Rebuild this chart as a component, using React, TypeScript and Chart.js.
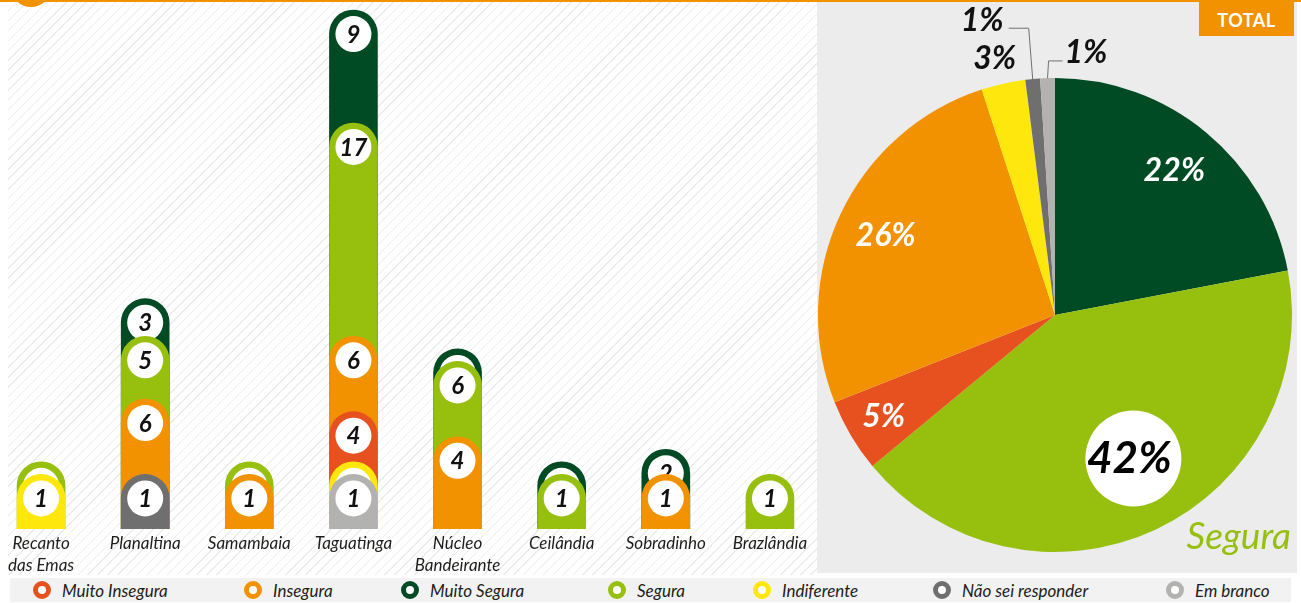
import React, { useEffect, useRef } from "react";
import { Chart, registerables } from "chart.js";

Chart.register(...registerables);

// ---------- data ----------
const CATEGORIES: (string | string[])[] = [
  ["Recanto", "das Emas"],
  "Planaltina",
  "Samambaia",
  "Taguatinga",
  ["Núcleo", "Bandeirante"],
  "Ceilândia",
  "Sobradinho",
  "Brazlândia",
];

// stacked bottom -> top
const EM_BRANCO = [null, null, null, 1, null, null, null, null];
const NAO_SEI = [null, 1, null, null, null, null, null, null];
const INDIFERENTE = [1, null, null, 1, null, null, null, null];
const MUITO_INSEGURA = [null, null, null, 4, null, null, null, null];
const INSEGURA = [null, 6, 1, 6, 4, null, 1, null];
const SEGURA = [1, 5, 1, 17, 6, 1, null, 1];
const MUITO_SEGURA = [null, 3, null, 9, 1, 1, 2, null];

const PIE_LABELS = [
  "Muito Segura",
  "Segura",
  "Muito Insegura",
  "Insegura",
  "Indiferente",
  "Não sei responder",
  "Em branco",
];
const PIE_PERCENT = [22, 42, 5, 26, 3, 1, 1];

const LEGEND_ORDER = [
  "Muito Insegura",
  "Insegura",
  "Muito Segura",
  "Segura",
  "Indiferente",
  "Não sei responder",
  "Em branco",
];

// ---------- styles ----------
const COLOR: Record<string, string> = {
  "Muito Segura": "#004b23",
  Segura: "#97bf0d",
  "Muito Insegura": "#e6511f",
  Insegura: "#f39200",
  Indiferente: "#fde70c",
  "Não sei responder": "#706f6f",
  "Em branco": "#b2b2b1",
};

const Y_MIN = -3.35;
const Y_MAX = 38.64;
const FONT = "Lato, 'Open Sans', sans-serif";
const LEGEND_X = [42, 253, 410, 617, 762, 942, 1175];

const barBadgePlugin = {
  id: "barBadges",
  afterDatasetDraw(chart: any, args: any) {
    const ctx = chart.ctx;
    const ds = chart.data.datasets[args.index];
    args.meta.data.forEach((el: any, i: number) => {
      const v = ds.data[i];
      if (v == null) return;
      const { x, y, width } = el.getProps(["x", "y", "width"], true);
      const r = width / 2;
      const cy = y + r;
      ctx.save();
      ctx.beginPath();
      ctx.arc(x, cy, r - 6, 0, Math.PI * 2);
      ctx.fillStyle = "#ffffff";
      ctx.fill();
      ctx.fillStyle = "#111111";
      ctx.font = `italic bold 24px ${FONT}`;
      ctx.textAlign = "center";
      ctx.textBaseline = "middle";
      ctx.fillText(String(v), x, cy + 1);
      ctx.restore();
    });
  },
};

const pieLabelPlugin = {
  id: "pieLabels",
  afterDatasetsDraw(chart: any) {
    const ctx = chart.ctx;
    const meta = chart.getDatasetMeta(0);
    const values = chart.data.datasets[0].data;
    meta.data.forEach((arc: any, i: number) => {
      const { x, y, startAngle, endAngle, outerRadius } = arc.getProps(
        ["x", "y", "startAngle", "endAngle", "outerRadius"],
        true
      );
      const mid = (startAngle + endAngle) / 2;
      const R = outerRadius;
      const at = (f: number, da = 0) => ({
        px: x + Math.cos(mid + da) * R * f,
        py: y + Math.sin(mid + da) * R * f,
      });
      const text = `${values[i]}%`;
      ctx.save();
      ctx.textAlign = "center";
      ctx.textBaseline = "middle";
      if (i === 0 || i === 2 || i === 3) {
        const f = i === 2 ? 0.84 : 0.79;
        const { px, py } = at(f);
        ctx.fillStyle = "#ffffff";
        ctx.font = `italic bold 32px ${FONT}`;
        ctx.fillText(text, px, py);
      } else if (i === 1) {
        const { px, py } = at(0.69, -0.06);
        ctx.beginPath();
        ctx.arc(px, py, 48, 0, Math.PI * 2);
        ctx.fillStyle = "#ffffff";
        ctx.fill();
        ctx.fillStyle = "#000000";
        ctx.font = `italic bold 44px ${FONT}`;
        ctx.fillText(text, px - 4, py);
      } else if (i === 4) {
        const { px, py } = at(1.11);
        ctx.fillStyle = "#111111";
        ctx.font = `italic bold 32px ${FONT}`;
        ctx.fillText(text, px - 3, py);
      } else if (i === 5 || i === 6) {
        const edge = at(1.0);
        ctx.strokeStyle = "#6f6f6f";
        ctx.lineWidth = 1;
        ctx.font = `italic bold 32px ${FONT}`;
        ctx.fillStyle = "#111111";
        ctx.textBaseline = "alphabetic";
        if (i === 5) {
          const ty = y - R * 1.21;
          ctx.beginPath();
          ctx.moveTo(edge.px, edge.py);
          ctx.lineTo(edge.px - 4, ty);
          ctx.lineTo(edge.px - 24, ty);
          ctx.stroke();
          ctx.textAlign = "right";
          ctx.fillText(text, edge.px - 29, ty + 3);
        } else {
          const ty = y - R * 1.072;
          ctx.beginPath();
          ctx.moveTo(edge.px, edge.py);
          ctx.lineTo(edge.px + 1, ty);
          ctx.lineTo(edge.px + 15, ty);
          ctx.stroke();
          ctx.textAlign = "left";
          ctx.fillText(text, edge.px + 17, ty + 2);
        }
      }
      ctx.restore();
    });
  },
};

function BarChart() {
  const ref = useRef<HTMLCanvasElement>(null);
  useEffect(() => {
    if (!ref.current) return;
    const series: [string, (number | null)[]][] = [
      ["Em branco", EM_BRANCO],
      ["Não sei responder", NAO_SEI],
      ["Indiferente", INDIFERENTE],
      ["Muito Insegura", MUITO_INSEGURA],
      ["Insegura", INSEGURA],
      ["Segura", SEGURA],
      ["Muito Segura", MUITO_SEGURA],
    ];
    const chart = new Chart(ref.current, {
      type: "bar",
      data: {
        labels: CATEGORIES as any,
        datasets: series.map(([name, data]) => ({
          label: name,
          data,
          backgroundColor: COLOR[name],
          borderWidth: 0,
          borderSkipped: "start",
          borderRadius: { topLeft: 24, topRight: 24, bottomLeft: 0, bottomRight: 0 },
          barThickness: 48,
          base: Y_MIN,
        })) as any,
      },
      options: {
        animation: false,
        responsive: true,
        maintainAspectRatio: false,
        events: [],
        layout: { padding: 0 },
        plugins: { legend: { display: false }, tooltip: { enabled: false } },
        scales: {
          x: {
            stacked: true,
            grid: { display: false, drawTicks: false },
            border: { display: false },
            ticks: {
              color: "#1d1d1b",
              font: { family: FONT, style: "italic", size: 17, lineHeight: 1.3 },
              padding: 3,
              maxRotation: 0,
              autoSkip: false,
            },
            afterFit: (s: any) => {
              s.height = 44;
            },
          },
          y: { stacked: true, display: false, min: Y_MIN, max: Y_MAX },
        },
      },
      plugins: [barBadgePlugin],
    });
    return () => chart.destroy();
  }, []);
  return <canvas ref={ref} />;
}

function PieChart() {
  const ref = useRef<HTMLCanvasElement>(null);
  useEffect(() => {
    if (!ref.current) return;
    const chart = new Chart(ref.current, {
      type: "pie",
      data: {
        labels: PIE_LABELS,
        datasets: [
          {
            data: PIE_PERCENT,
            backgroundColor: PIE_LABELS.map((n) => COLOR[n]),
            borderWidth: 0,
          },
        ],
      },
      options: {
        animation: false,
        responsive: true,
        maintainAspectRatio: false,
        events: [],
        layout: { padding: { left: 1, top: 76, right: 5, bottom: 21 } },
        plugins: { legend: { display: false }, tooltip: { enabled: false } },
      },
      plugins: [pieLabelPlugin],
    });
    return () => chart.destroy();
  }, []);
  return <canvas ref={ref} />;
}

export default function App() {
  return (
    <div
      style={{
        position: "absolute",
        left: 0,
        top: 0,
        width: 1301,
        height: 603,
        overflow: "hidden",
        background: "#ffffff",
        fontFamily: FONT,
      }}
    >
      {/* striped bar area */}
      <div
        style={{
          position: "absolute",
          left: 8,
          top: 2,
          width: 809,
          height: 573,
          overflow: "hidden",
          background:
            "repeating-linear-gradient(135deg, #ffffff 0px, #ffffff 6px, #ececec 6px, #ececec 7px)",
        }}
      >
        <div style={{ position: "absolute", left: -19, top: 0, width: 833, height: 571 }}>
          <BarChart />
        </div>
      </div>

      {/* pie area */}
      <div
        style={{
          position: "absolute",
          left: 817,
          top: 2,
          width: 480,
          height: 571,
          background: "#ebeceb",
        }}
      >
        <div style={{ position: "absolute", left: 0, top: 0, width: 480, height: 571 }}>
          <PieChart />
        </div>
        <div
          style={{
            position: "absolute",
            left: 382,
            top: 0,
            width: 95,
            height: 34,
            background: "#f39200",
            color: "#ffffff",
            fontWeight: 700,
            fontSize: 18,
            lineHeight: "36px",
            textAlign: "center",
            letterSpacing: 0.5,
          }}
        >
          TOTAL
        </div>
        <div
          style={{
            position: "absolute",
            right: 6,
            top: 514,
            fontSize: 37,
            lineHeight: "37px",
            fontStyle: "italic",
            color: "#97bf0d",
          }}
        >
          Segura
        </div>
      </div>

      {/* top orange line and dot */}
      <div style={{ position: "absolute", left: 0, top: 0, width: 1301, height: 2, background: "#f39200" }} />
      <div
        style={{
          position: "absolute",
          left: 11,
          top: -33,
          width: 40,
          height: 40,
          borderRadius: "50%",
          background: "#f39200",
        }}
      />

      {/* legend */}
      <div
        style={{
          position: "absolute",
          left: 10,
          top: 578,
          width: 1281,
          height: 24,
          background: "#f2f2f2",
        }}
      >
        {LEGEND_ORDER.map((name, i) => (
          <div
            key={name}
            style={{
              position: "absolute",
              left: LEGEND_X[i] - 10 - 9,
              top: 0,
              height: 24,
              display: "flex",
              alignItems: "center",
              whiteSpace: "nowrap",
            }}
          >
            <span
              style={{
                display: "inline-block",
                width: 8,
                height: 8,
                border: `5px solid ${COLOR[name]}`,
                borderRadius: "50%",
                background: "#ffffff",
              }}
            />
            <span
              style={{
                marginLeft: 11,
                fontStyle: "italic",
                fontSize: 17,
                color: "#1d1d1b",
              }}
            >
              {name}
            </span>
          </div>
        ))}
      </div>
    </div>
  );
}
